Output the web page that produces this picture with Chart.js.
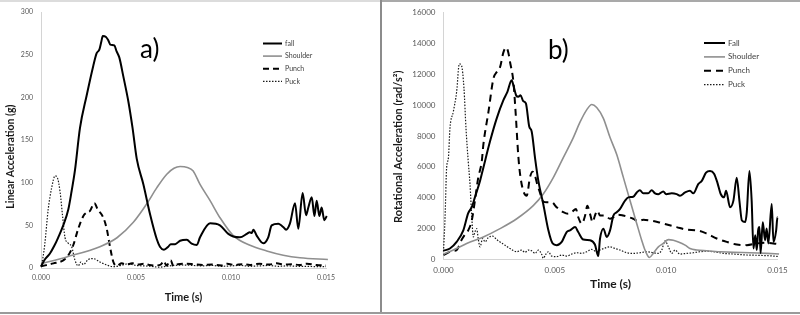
<!DOCTYPE html>
<html>
<head>
<meta charset="utf-8">
<script src="https://cdn.jsdelivr.net/npm/chart.js@4.4.1/dist/chart.umd.min.js"></script>
<style>
    html, body { margin: 0; padding: 0; background: #fff; }
    #wrap { position: relative; width: 800px; height: 315px; overflow: hidden; }
    #boxA { position: absolute; left: 0; top: 0; width: 380px; height: 312px; }
    #boxB { position: absolute; left: 382px; top: 0; width: 418px; height: 312px; }
    .edge { position: absolute; }
</style>
</head>
<body>
<div id="wrap">
    <div class="edge" style="left:0;top:0;width:380px;height:2px;background:#dcdcdc"></div>
    <div class="edge" style="left:382px;top:0;width:418px;height:2px;background:#a9a9a9"></div>
    <div class="edge" style="left:380px;top:0;width:2px;height:313px;background:#8c8c8c"></div>
    <div class="edge" style="left:0;top:312px;width:800px;height:2px;background:#9a9a9a"></div>
    <div id="boxA"><canvas id="chartLinear" width="380" height="312"></canvas></div>
    <div id="boxB"><canvas id="chartRotational" width="418" height="312"></canvas></div>
</div>
<script>
// time (s) ticks shared by both panels
const timeTicks = [0, 0.005, 0.010, 0.015];
const linearTicks = [0, 50, 100, 150, 200, 250, 300];
const rotationalTicks = [0, 2000, 4000, 6000, 8000, 10000, 12000, 14000, 16000];
const seriesNamesA = ['fall', 'Shoulder', 'Punch', 'Puck'];
const seriesNamesB = ['Fall', 'Shoulder', 'Punch', 'Puck'];

// a) linear acceleration (g), pairs of [time, value]
const fallA = [
    [0, 2], [0.0002, 10], [0.00047, 17], [0.0007, 26], [0.00091, 36], [0.00117, 50],
    [0.00144, 69], [0.00161, 90], [0.00179, 115], [0.00205, 164], [0.0024, 202],
    [0.00275, 237], [0.00293, 252], [0.00307, 256], [0.00318, 266], [0.00325, 272],
    [0.00342, 271], [0.00354, 267], [0.00365, 262], [0.00386, 261], [0.00398, 254],
    [0.00412, 247], [0.00433, 225], [0.0046, 195], [0.00482, 164], [0.00504, 128],
    [0.00539, 98], [0.00574, 63], [0.00609, 34], [0.00626, 25], [0.00647, 21.5],
    [0.0067, 25], [0.00683, 28], [0.00706, 28], [0.00732, 32], [0.00767, 33],
    [0.00793, 28.5], [0.0082, 27], [0.00837, 36], [0.0089, 52.5], [0.00942, 50],
    [0.00986, 40], [0.01012, 37], [0.01047, 36], [0.01083, 40], [0.01099, 42],
    [0.01109, 41], [0.01118, 45], [0.01135, 38], [0.0117, 29], [0.01196, 36],
    [0.01214, 50], [0.01249, 52], [0.01258, 51], [0.01275, 48], [0.0129, 45],
    [0.0131, 52], [0.01337, 76], [0.01354, 46], [0.01377, 88], [0.01395, 62],
    [0.01407, 71], [0.01425, 83], [0.01439, 61], [0.01451, 79], [0.01465, 61],
    [0.01477, 71], [0.01491, 56], [0.01504, 61]
];
const shoulderA = [
    [0, 5], [0.00135, 13], [0.0031, 25], [0.004, 35.5], [0.00486, 53.6], [0.00556, 75],
    [0.00609, 94], [0.00662, 110], [0.007, 117], [0.00732, 119], [0.0077, 118],
    [0.008, 114], [0.00837, 98], [0.0089, 79], [0.00942, 59], [0.01012, 38],
    [0.011, 26.6], [0.01188, 20], [0.01275, 15], [0.01363, 12], [0.0151, 10]
];
const punchA = [
    [0, 2], [0.00065, 5.4], [0.00117, 9], [0.00144, 15], [0.0017, 27], [0.00196, 46],
    [0.00223, 61], [0.0024, 65], [0.00258, 67], [0.00281, 76], [0.00298, 69],
    [0.00328, 59], [0.00346, 46], [0.00363, 25], [0.00381, 7], [0.00398, 2.5],
    [0.00425, 5.5], [0.0045, 4], [0.0048, 5.5], [0.0051, 4], [0.0054, 5], [0.0057, 3.5],
    [0.006, 3], [0.0063, 4], [0.00647, 8], [0.0066, 3], [0.00683, 9], [0.00696, 2.5],
    [0.0072, 4.5], [0.0076, 5], [0.008, 4.5], [0.0085, 3.5], [0.009, 4], [0.0095, 3],
    [0.0098, 5], [0.0102, 3.5], [0.0106, 4.5], [0.011, 3.5], [0.0115, 5], [0.012, 4],
    [0.0124, 5.5], [0.0128, 4], [0.0132, 4.5], [0.0136, 3.5], [0.014, 5], [0.0145, 3.5],
    [0.015, 3]
];
const puckA = [
    [0, 1], [0.0001, 12], [0.0002, 28], [0.00038, 69], [0.00056, 94], [0.00074, 108],
    [0.00086, 106], [0.001, 90], [0.00114, 60], [0.00126, 36], [0.00144, 29],
    [0.00161, 25], [0.00179, 9], [0.00196, 2.5], [0.0021, 7], [0.00223, 4],
    [0.00249, 10], [0.00275, 11], [0.0031, 7], [0.00346, 3.5], [0.00381, 1.5],
    [0.0042, 3], [0.0046, 5], [0.005, 3], [0.0054, 2.5], [0.0058, 2], [0.0062, 1],
    [0.0066, 2], [0.007, 3], [0.0075, 3.5], [0.008, 3], [0.0085, 2.5], [0.009, 3],
    [0.0095, 2], [0.01, 2.5], [0.0105, 3], [0.011, 2], [0.0115, 2.5], [0.012, 3],
    [0.0125, 2], [0.013, 2.5], [0.0135, 2], [0.014, 2], [0.0145, 1.5], [0.015, 1.5]
];

// b) rotational acceleration (rad/s2)
const fallB = [
    [0, 560], [0.00029, 700], [0.00059, 1130], [0.00089, 1880], [0.00111, 3000],
    [0.00127, 3380], [0.00141, 4020], [0.00164, 5090], [0.00179, 5950], [0.00209, 7660],
    [0.00239, 9150], [0.00269, 10330], [0.00287, 10870], [0.00306, 11615],
    [0.00314, 11290], [0.00326, 10650], [0.00336, 10545], [0.00346, 10650],
    [0.00358, 10270], [0.0037, 10120], [0.00385, 8620], [0.00396, 8300],
    [0.00411, 6590], [0.00426, 5090], [0.00448, 3590], [0.00471, 1880], [0.0049, 1030],
    [0.00508, 920], [0.00531, 1130], [0.00553, 1770], [0.00568, 1880], [0.00591, 2090],
    [0.00605, 1770], [0.00628, 1280], [0.00658, 1240], [0.0068, 960], [0.00695, 210],
    [0.00703, 1350], [0.00718, 1990], [0.00733, 1450], [0.00748, 1880], [0.00763, 2840],
    [0.00778, 3055], [0.00793, 3270], [0.00815, 3800], [0.0083, 4020], [0.00852, 4060],
    [0.00868, 4340], [0.00882, 4490], [0.00897, 4280], [0.00919, 4280], [0.00935, 4490],
    [0.0095, 4280], [0.00965, 4230], [0.00987, 4400], [0.01, 4230], [0.01025, 4280],
    [0.01047, 4230], [0.01062, 4130], [0.01085, 4340], [0.01107, 4450], [0.01122, 4280],
    [0.01144, 4880], [0.0116, 5090], [0.01179, 5620], [0.01197, 5730], [0.01215, 5560],
    [0.0123, 4980], [0.01245, 4240], [0.0126, 4020], [0.01269, 4450], [0.01287, 3380],
    [0.01302, 3810], [0.01317, 5300], [0.01329, 3800], [0.0134, 2520], [0.01355, 2420],
    [0.01362, 3050], [0.01374, 5730], [0.01384, 3800], [0.01392, 700], [0.014, 1560],
    [0.01407, 600], [0.01413, 1880], [0.01419, 2090], [0.01424, 400], [0.01434, 2410],
    [0.01444, 1240], [0.01451, 2000], [0.01459, 1030], [0.01474, 3590], [0.01482, 1130],
    [0.01494, 1880], [0.015, 2740], [0.01507, 2090]
];
const shoulderB = [
    [0, 330], [0.00044, 600], [0.00104, 1030], [0.00179, 1450], [0.00254, 1990],
    [0.00329, 2630], [0.00403, 3480], [0.00448, 4235], [0.00493, 5300], [0.00538, 6600],
    [0.00583, 7900], [0.00613, 8900], [0.00643, 9700], [0.00666, 10050], [0.00688, 9850],
    [0.00718, 9150], [0.00748, 7900], [0.00778, 6800], [0.00808, 5300], [0.00838, 3800],
    [0.00868, 2310], [0.0089, 1240], [0.00905, 600], [0.00925, 120], [0.00942, 385],
    [0.00965, 810], [0.00987, 1030], [0.0101, 1280], [0.01032, 1240], [0.01055, 1130],
    [0.01085, 920], [0.01107, 700], [0.01137, 600], [0.01182, 550], [0.01242, 490],
    [0.01302, 450], [0.01377, 430], [0.01452, 385], [0.01507, 340]
];
const punchB = [
    [0, 280], [0.00044, 550], [0.00059, 600], [0.00082, 1280], [0.00097, 1620],
    [0.00111, 1880], [0.00127, 2520], [0.00141, 3800], [0.00156, 5300], [0.00172, 6370],
    [0.00179, 7440], [0.00202, 9580], [0.00224, 11720], [0.00239, 12150],
    [0.00254, 12470], [0.00269, 13430], [0.00281, 13750], [0.00291, 13430],
    [0.00299, 12790], [0.00314, 11510], [0.00324, 9500], [0.00336, 6700],
    [0.00344, 5520], [0.00358, 4450], [0.00374, 4130], [0.00388, 5300], [0.004, 5690],
    [0.00411, 5410], [0.00421, 4880], [0.00433, 4340], [0.00448, 3750], [0.00464, 3700],
    [0.00486, 3700], [0.00508, 3380], [0.00538, 3055], [0.0056, 2950], [0.00575, 3050],
    [0.00595, 3270], [0.00605, 2740], [0.00621, 2310], [0.00636, 2840], [0.00646, 3480],
    [0.00658, 2950], [0.0067, 2410], [0.0068, 2840], [0.00691, 3160], [0.00703, 2840],
    [0.00725, 2840], [0.00748, 2630], [0.00785, 2900], [0.00807, 2840], [0.0083, 2740],
    [0.00852, 2630], [0.00875, 2480], [0.00897, 2560], [0.00927, 2520], [0.00965, 2410],
    [0.01003, 2260], [0.01047, 2090], [0.01092, 1920], [0.01137, 1880], [0.01182, 1670],
    [0.01227, 1350], [0.01272, 1130], [0.01317, 960], [0.01362, 920], [0.01407, 1030],
    [0.01452, 1070], [0.01507, 980]
];
const puckB = [
    [0, 500], [0.00007, 2740], [0.00014, 5940], [0.00022, 6585], [0.00029, 8510],
    [0.00044, 9580], [0.00059, 10870], [0.00071, 12680], [0.00081, 12570],
    [0.00092, 11080], [0.00101, 8510], [0.00111, 6370], [0.00119, 4880], [0.00127, 2740],
    [0.00134, 1450], [0.00141, 1770], [0.00149, 1990], [0.00156, 1345], [0.00164, 810],
    [0.00176, 1350], [0.00187, 1130], [0.00201, 1410], [0.00221, 1500], [0.00239, 1280],
    [0.00269, 980], [0.00299, 700], [0.00329, 490], [0.00351, 600], [0.00366, 450],
    [0.00381, 600], [0.00396, 550], [0.00411, 385], [0.00426, 600], [0.00441, 320],
    [0.00448, 64], [0.0046, 340], [0.00471, 490], [0.00486, 210], [0.00508, 170],
    [0.00531, 280], [0.00553, 210], [0.00575, 340], [0.00598, 425], [0.0062, 385],
    [0.00643, 490], [0.00665, 640], [0.00688, 490], [0.00703, 600], [0.00733, 770],
    [0.00748, 810], [0.0077, 700], [0.00793, 600], [0.00823, 425], [0.00852, 385],
    [0.00882, 425], [0.00912, 490], [0.00965, 385], [0.0098, 600], [0.00995, 1195],
    [0.0101, 810], [0.01025, 385], [0.0104, 600], [0.01062, 340], [0.01092, 385],
    [0.01122, 425], [0.01152, 490], [0.01182, 530], [0.01212, 490], [0.01257, 385],
    [0.01302, 340], [0.01362, 280], [0.01422, 255], [0.01482, 210], [0.01507, 170]
];

const FONT = 'Lato, "Open Sans", sans-serif';

// draws the panel letter and the little legend in the top right
const panelNotes = {
    id: 'panelNotes',
    afterDraw(chart, args, o) {
        const ctx = chart.ctx;
        ctx.save();
        ctx.fillStyle = '#000';
        ctx.font = '26px ' + FONT;
        ctx.textBaseline = 'middle';
        ctx.fillText(o.label, o.labelX, o.labelY);
        ctx.font = o.legendSize + 'px ' + FONT;
        chart.data.datasets.forEach(function (ds, i) {
            const y = o.legendY + i * o.legendGap;
            ctx.beginPath();
            ctx.setLineDash(ds.borderDash || []);
            ctx.strokeStyle = ds.borderColor;
            ctx.lineWidth = ds.borderWidth;
            ctx.moveTo(o.legendX, y);
            ctx.lineTo(o.legendX + o.legendLen, y);
            ctx.stroke();
            ctx.setLineDash([]);
            ctx.fillStyle = '#404040';
            ctx.fillText(ds.label, o.legendX + o.legendLen + 3, y);
        });
        ctx.restore();
    }
};

function toPoints(arr) {
    return arr.map(function (p) { return { x: p[0], y: p[1] }; });
}

function makeDatasets(names, series, dashes) {
    const styles = [
        { borderColor: '#000000', borderWidth: 2 },
        { borderColor: '#8f8f8f', borderWidth: 1.6 },
        { borderColor: '#000000', borderWidth: 2, borderDash: dashes },
        { borderColor: '#1a1a1a', borderWidth: 1.2, borderDash: [1.5, 1.5] }
    ];
    return series.map(function (s, i) {
        return Object.assign({
            label: names[i],
            data: toPoints(s),
            pointRadius: 0,
            cubicInterpolationMode: 'monotone',
            clip: false
        }, styles[i]);
    });
}

function makeConfig(p) {
    return {
        type: 'line',
        data: { datasets: makeDatasets(p.names, p.series, p.dash) },
        options: {
            responsive: false,
            animation: false,
            devicePixelRatio: 1,
            layout: { padding: { top: p.top, right: p.right, left: 0, bottom: 0 } },
            plugins: {
                legend: { display: false },
                tooltip: { enabled: false },
                panelNotes: p.notes
            },
            scales: {
                x: {
                    type: 'linear',
                    min: 0,
                    max: 0.015,
                    afterBuildTicks: function (s) { s.ticks = timeTicks.map(function (v) { return { value: v }; }); },
                    afterFit: function (s) { s.height = p.xHeight; },
                    grid: { display: false, drawTicks: false },
                    border: { display: true, color: '#d4d4d4', width: 1 },
                    ticks: {
                        padding: 6,
                        maxRotation: 0,
                        color: '#595959',
                        font: { family: FONT, size: p.tickSize },
                        callback: function (v) { return Number(v).toFixed(3); }
                    },
                    title: {
                        display: true,
                        text: 'Time (s)',
                        color: '#1a1a1a',
                        font: { family: FONT, size: p.xTitleSize, weight: 'bold' },
                        padding: { top: 0, bottom: p.xTitlePad }
                    }
                },
                y: {
                    min: 0,
                    max: p.yTicks[p.yTicks.length - 1],
                    afterBuildTicks: function (s) { s.ticks = p.yTicks.map(function (v) { return { value: v }; }); },
                    afterFit: function (s) { s.width = p.yWidth; },
                    grid: { display: false, drawTicks: false },
                    border: { display: true, color: '#d4d4d4', width: 1 },
                    ticks: {
                        padding: 8,
                        color: '#595959',
                        font: { family: FONT, size: p.tickSize },
                        callback: function (v) { return String(v); }
                    },
                    title: {
                        display: true,
                        text: p.yTitle,
                        color: '#1a1a1a',
                        font: { family: FONT, size: p.yTitleSize, weight: 'bold' },
                        padding: { top: p.yTitlePad, bottom: 0 }
                    }
                }
            }
        },
        plugins: [panelNotes]
    };
}

// trailing spaces push the rotated title a bit lower, like the original
function shiftDown(text, n) {
    return text + ' '.repeat(n);
}

renderLinear();
renderRotational();

function renderLinear() {
    new Chart(document.getElementById('chartLinear'), makeConfig({
        names: seriesNamesA,
        series: [fallA, shoulderA, punchA, puckA],
        dash: [6, 4],
        yTicks: linearTicks,
        top: 9, right: 54, yWidth: 41, xHeight: 44,
        tickSize: 7, xTitleSize: 11, xTitlePad: 7.5,
        yTitle: shiftDown('Linear Acceleration (g)', 13), yTitleSize: 10.5, yTitlePad: 4,
        notes: { label: 'a)', labelX: 140, labelY: 50, legendX: 263, legendY: 43.5,
                 legendGap: 12.6, legendLen: 19, legendSize: 7 }
    }));
}

function renderRotational() {
    new Chart(document.getElementById('chartRotational'), makeConfig({
        names: seriesNamesB,
        series: [fallB, shoulderB, punchB, puckB],
        dash: [7, 5],
        yTicks: rotationalTicks,
        top: 10, right: 22.5, yWidth: 61.5, xHeight: 52.7,
        tickSize: 8, xTitleSize: 12, xTitlePad: 20.5,
        yTitle: shiftDown('Rotational Acceleration (rad/s\u00b2)', 8), yTitleSize: 11, yTitlePad: 9.5,
        notes: { label: 'b)', labelX: 166, labelY: 51, legendX: 322, legendY: 43,
                 legendGap: 13.9, legendLen: 21, legendSize: 8 }
    }));
}
</script>
</body>
</html>
